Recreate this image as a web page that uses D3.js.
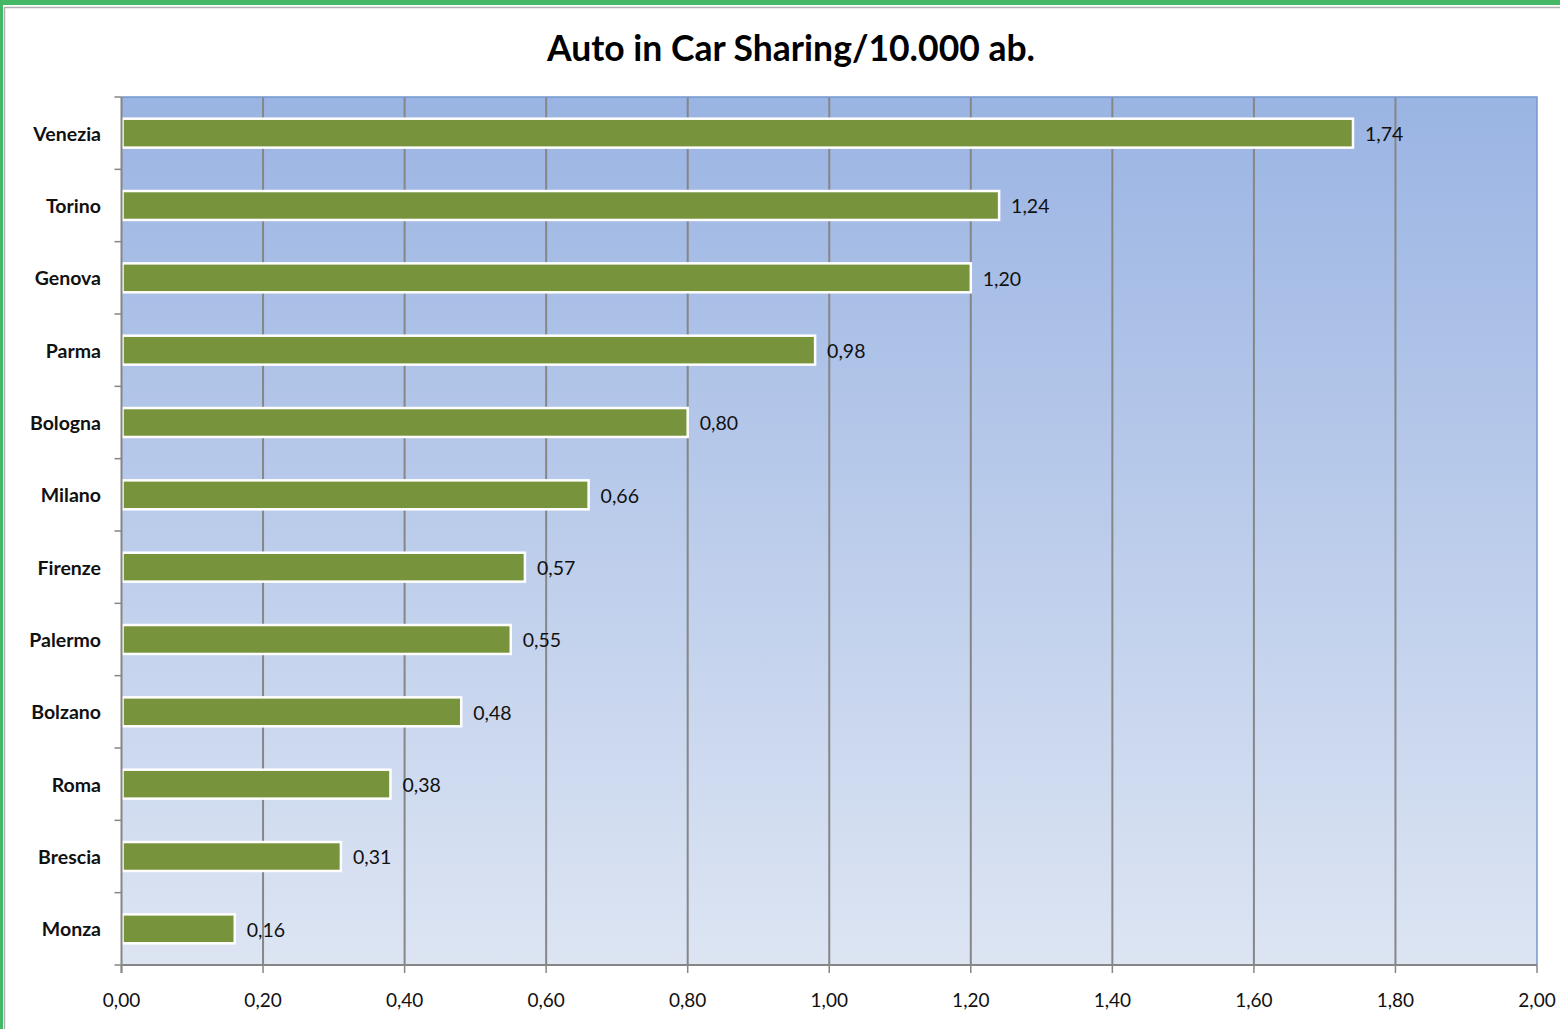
<!DOCTYPE html>
<html><head><meta charset="utf-8">
<script src="https://cdn.jsdelivr.net/npm/d3@7/dist/d3.min.js"></script>
<style>html,body{margin:0;padding:0;background:#fff;}svg{display:block;}</style>
</head><body>
<svg id="c" width="1560" height="1029"></svg>
<script>
const categories = ["Venezia","Torino","Genova","Parma","Bologna","Milano","Firenze","Palermo","Bolzano","Roma","Brescia","Monza"];
const values = [1.74,1.24,1.20,0.98,0.80,0.66,0.57,0.55,0.48,0.38,0.31,0.16];
const xTicks = [0,0.2,0.4,0.6,0.8,1.0,1.2,1.4,1.6,1.8,2.0];
const title = "Auto in Car Sharing/10.000 ab.";

const svg = d3.select("#c");
const font = "Lato, 'Open Sans', sans-serif";
const fmt = v => v.toFixed(2).replace(".", ",");

// frame
svg.append("rect").attr("x",0).attr("y",0).attr("width",1560).attr("height",1029).attr("fill","#fff");
svg.append("rect").attr("x",0).attr("y",0).attr("width",1560).attr("height",5).attr("fill","#45B866");
svg.append("rect").attr("x",0).attr("y",0).attr("width",3).attr("height",1029).attr("fill","#45B866");
svg.append("line").attr("x1",4).attr("x2",1560).attr("y1",7.5).attr("y2",7.5).attr("stroke","#b0b0b0").attr("stroke-width",1.5);
svg.append("line").attr("x1",4.5).attr("x2",4.5).attr("y1",7).attr("y2",1029).attr("stroke","#b0b0b0").attr("stroke-width",1.5);

const L=121.5, R=1537, T=97, B=965;
const x = d3.scaleLinear().domain([0,2]).range([L,R]);
const y = d3.scaleBand().domain(categories).range([T,B]).paddingInner(0.6).paddingOuter(0.3);
const yb = d3.scaleBand().domain(categories).range([T,B]);

const defs = svg.append("defs");
const g = defs.append("linearGradient").attr("id","bg").attr("x1",0).attr("y1",0).attr("x2",0).attr("y2",1);
g.append("stop").attr("offset","0%").attr("stop-color","#9AB4E3");
g.append("stop").attr("offset","100%").attr("stop-color","#DDE5F3");

svg.append("rect").attr("x",L).attr("y",T).attr("width",R-L).attr("height",B-T).attr("fill","url(#bg)");

// gridlines
svg.append("g").selectAll("line").data(xTicks.slice(1,-1)).join("line")
  .attr("x1",d=>x(d)).attr("x2",d=>x(d)).attr("y1",T).attr("y2",B)
  .attr("stroke","#868686").attr("stroke-width",2);

// plot border top/right
svg.append("path").attr("d",`M${L},${T}H${R}V${B}`).attr("fill","none").attr("stroke","#7398D0").attr("stroke-width",1.5);

// bars
svg.append("g").selectAll("rect").data(values).join("rect")
  .attr("x",x(0)+1).attr("y",(d,i)=>y(categories[i]))
  .attr("width",d=>x(d)-x(0)-1).attr("height",y.bandwidth())
  .attr("fill","#77933C").attr("stroke","#fff").attr("stroke-width",2.5);

// value labels
svg.append("g").selectAll("text").data(values).join("text")
  .attr("x",d=>x(d)+12).attr("y",(d,i)=>y(categories[i])+y.bandwidth()/2+3)
  .attr("dominant-baseline","middle").attr("font-family",font).attr("font-size",19.5)
  .attr("fill","#111").text(d=>fmt(d));

// y axis
const yAxis = svg.append("g");
yAxis.append("line").attr("x1",L).attr("x2",L).attr("y1",T).attr("y2",B+8).attr("stroke","#868686").attr("stroke-width",2);
const bounds = categories.map(c=>yb(c)).concat([B]);
yAxis.selectAll("line.t").data(bounds).join("line").attr("class","t")
  .attr("x1",L-7).attr("x2",L).attr("y1",d=>d).attr("y2",d=>d).attr("stroke","#868686").attr("stroke-width",1.5);
yAxis.selectAll("text").data(categories).join("text")
  .attr("x",101).attr("y",d=>y(d)+y.bandwidth()/2+2.5).attr("text-anchor","end").attr("dominant-baseline","middle")
  .attr("font-family",font).attr("font-weight","bold").attr("font-size",19.5).attr("fill","#111").text(d=>d);

// x axis
const xAxis = svg.append("g");
xAxis.append("line").attr("x1",L).attr("x2",R).attr("y1",B).attr("y2",B).attr("stroke","#868686").attr("stroke-width",2);
xAxis.selectAll("line.t").data(xTicks).join("line").attr("class","t")
  .attr("x1",d=>x(d)).attr("x2",d=>x(d)).attr("y1",B).attr("y2",B+8).attr("stroke","#868686").attr("stroke-width",1.5);
xAxis.selectAll("text").data(xTicks).join("text")
  .attr("x",d=>x(d)).attr("y",1002).attr("text-anchor","middle").attr("dominant-baseline","middle")
  .attr("font-family",font).attr("font-size",19).attr("fill","#111").text(d=>fmt(d));

// title
svg.append("text").attr("x",791).attr("y",52).attr("text-anchor","middle").attr("dominant-baseline","middle")
  .attr("font-family",font).attr("font-weight","bold").attr("font-size",35.5).attr("fill","#000").text(title);
</script>
</body></html>
